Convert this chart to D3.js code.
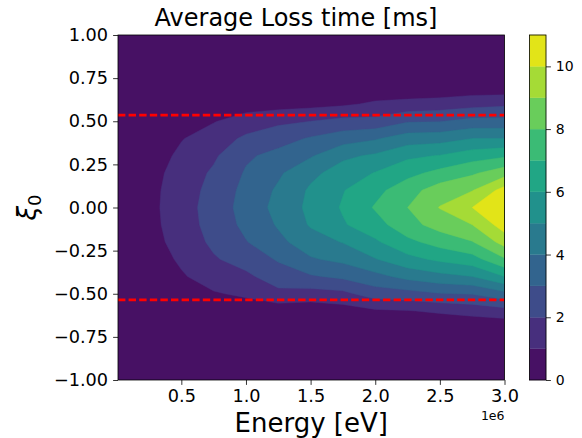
<!DOCTYPE html>
<html><head><meta charset="utf-8">
<script src="https://cdn.jsdelivr.net/npm/d3@7"></script>
<style>
body{margin:0;background:#fff}
text{font-family:"DejaVu Sans",sans-serif;fill:#000}
</style>
</head><body>
<svg id="chart" width="582" height="438"></svg>
<script>
// ---- data ----
const energyMeV = [0.01, 0.25, 0.5, 0.75, 1.0, 1.25, 1.5, 1.75, 2.0, 2.25, 2.5, 2.75, 3.0]; // x 1e6 eV
const xi0 = [-1.0,-0.9,-0.8,-0.7,-0.6,-0.5,-0.4,-0.3,-0.2,-0.1,0.0,0.1,0.2,0.3,0.4,0.5,0.6,0.7,0.8,0.9,1.0];
// average loss time [ms]; one row per energy, values along xi0
const lossTime = [
  [0,0,0,0,0,0,0,0,0,0,0,0,0,0,0,0,0,0,0,0,0],
  [0,0,0,0,0,0.1,0.3,0.48,0.6,0.67,0.7,0.68,0.62,0.5,0.3,0.1,0,0,0,0,0],
  [0,0,0,0,0.2,0.55,0.9,1.15,1.4,1.55,1.6,1.55,1.42,1.2,0.95,0.6,0.25,0,0,0,0],
  [0,0,0,0.1,0.4,0.92,1.42,1.9,2.2,2.35,2.4,2.3,2.15,1.85,1.45,0.95,0.45,0.1,0,0,0],
  [0,0,0,0.1,0.5,1.15,1.8,2.4,2.95,3.25,3.4,3.3,3.1,2.85,2.2,1.4,0.6,0.15,0,0,0],
  [0,0,0,0.1,0.4,1.75,2.5,3.1,3.75,4.1,4.3,4.15,3.85,3.3,2.6,1.8,0.6,0.2,0,0,0],
  [0,0,0,0.1,0.35,1.6,2.9,3.9,4.55,5.1,5.25,5.15,4.75,3.9,3.1,2.0,0.7,0.15,0,0,0],
  [0,0,0,0.1,0.55,1.75,3.2,4.25,5.05,5.9,6.1,5.95,5.45,4.8,3.55,2.3,0.85,0.2,0,0,0],
  [0,0,0,0.15,0.85,2.5,3.7,4.95,5.85,6.6,7.1,6.7,6.05,5.15,3.9,2.3,1.15,0.3,0,0,0],
  [0,0,0,0.1,0.95,2.65,4.3,5.7,6.75,7.65,8.0,7.6,6.7,5.8,4.5,2.9,1.3,0.25,0,0,0],
  [0,0,0,0.1,1.15,2.95,4.7,6.2,7.4,8.4,9.05,8.5,7.3,6.05,4.6,2.95,1.45,0.2,0,0,0],
  [0,0,0,0.2,1.35,3.05,5.0,6.6,7.95,9.0,10.0,8.95,7.85,6.55,5.0,3.3,1.65,0.35,0,0,0],
  [0,0,0,0.2,1.6,3.7,6.0,7.9,9.4,10.5,10.9,10.4,8.6,6.85,5.0,3.3,1.8,0.3,0,0,0]
];
const levels = [0,1,2,3,4,5,6,7,8,9,10,11];
const xTicks = [0.5e6,1.0e6,1.5e6,2.0e6,2.5e6,3.0e6];
const yTicks = [-1.0,-0.75,-0.5,-0.25,0,0.25,0.5,0.75,1.0];
const cbTicks = [0,2,4,6,8,10];
const boundaryXi = [0.535,-0.535];
const titleText = "Average Loss time [ms]";
const xLabelText = "Energy [eV]";

// ---- layout ----
const L = 118, R = 504.5, T = 35, B = 380;
const cbL = 529.5, cbR = 546;
const svg = d3.select("#chart");

const x = d3.scaleLinear().domain([0.01e6, 3e6]).range([L, R]);
const y = d3.scaleLinear().domain([-1, 1]).range([B, T]);
const color = i => d3.interpolateViridis((levels[i] + levels[i+1]) / 2 / levels[levels.length-1]);

// padded grid (edge rows/cols repeated) so contour borders fall outside the plot
const nE = energyMeV.length, nX = xi0.length, W = nE + 2, H = nX + 2;
const grid = new Array(W * H);
for (let j = 0; j < H; j++) for (let i = 0; i < W; i++) {
  const ie = Math.min(nE - 1, Math.max(0, i - 1));
  const jx = Math.min(nX - 1, Math.max(0, j - 1));
  grid[j * W + i] = lossTime[ie][jx];
}
const idx2E = d3.scaleLinear().domain(d3.range(nE)).range(energyMeV.map(e => e * 1e6));
const idx2Xi = d3.scaleLinear().domain(d3.range(nX)).range(xi0);
const proj = d3.geoTransform({ point(px, py) {
  this.stream.point(x(idx2E(px - 1.5)), y(idx2Xi(py - 1.5)));
}});
const path = d3.geoPath(proj);
const contours = d3.contours().size([W, H]).thresholds(levels.slice(0, -1))(grid);

svg.append("defs").append("clipPath").attr("id", "plotclip")
  .append("rect").attr("x", L).attr("y", T).attr("width", R - L).attr("height", B - T);

const plot = svg.append("g").attr("clip-path", "url(#plotclip)");
plot.selectAll("path.band").data(contours).join("path")
  .attr("class", "band")
  .attr("d", path)
  .attr("fill", (d, i) => color(i))
  .attr("stroke", (d, i) => color(i))
  .attr("stroke-width", 0.4);

// dashed boundary lines
plot.selectAll("line.bnd").data(boundaryXi).join("line")
  .attr("class", "bnd")
  .attr("x1", x(0.01e6)).attr("x2", x(3e6))
  .attr("y1", d => y(d)).attr("y2", d => y(d))
  .attr("stroke", "#ff0000").attr("stroke-width", 2.8)
  .attr("stroke-dasharray", "7.4,3.2");

// spines
svg.append("rect").attr("x", L).attr("y", T).attr("width", R - L).attr("height", B - T)
  .attr("fill", "none").attr("stroke", "#000").attr("stroke-width", 0.8);

// axes
const xAxis = svg.append("g").attr("transform", `translate(0,${B})`)
  .call(d3.axisBottom(x).tickValues(xTicks).tickFormat(d => (d / 1e6).toFixed(1))
    .tickSize(4.9).tickSizeOuter(0).tickPadding(4.9));
const yAxis = svg.append("g").attr("transform", `translate(${L},0)`)
  .call(d3.axisLeft(y).tickValues(yTicks).tickFormat(d3.format(".2f"))
    .tickSize(4.9).tickSizeOuter(0).tickPadding(5));
[xAxis, yAxis].forEach(g => {
  g.select(".domain").remove();
  g.selectAll(".tick line").attr("stroke", "#000").attr("stroke-width", 0.8);
  g.selectAll(".tick text").attr("font-size", 17.7).attr("font-family", "DejaVu Sans").attr("fill", "#000");
});

// offset text
svg.append("text").attr("x", R).attr("y", 420).attr("text-anchor", "end")
  .attr("font-size", 12.5).text("1e6");

// labels
svg.append("text").attr("x", (L + R) / 2).attr("y", 432).attr("text-anchor", "middle")
  .attr("font-size", 26).text(xLabelText);
svg.append("text").attr("x", 296).attr("y", 26).attr("text-anchor", "middle")
  .attr("font-size", 24).text(titleText);
const yl = svg.append("text").attr("transform", `translate(36,${(T + B) / 2}) rotate(-90)`)
  .attr("text-anchor", "middle").attr("font-size", 26);
yl.append("tspan").attr("font-style", "italic").text("ξ");
yl.append("tspan").attr("font-size", 18).attr("dy", 5).text("0");

// colorbar
const cy = d3.scaleLinear().domain([levels[0], levels[levels.length - 1]]).range([B, T]);
svg.append("g").selectAll("rect").data(levels.slice(0, -1)).join("rect")
  .attr("x", cbL).attr("width", cbR - cbL)
  .attr("y", (d, i) => cy(levels[i + 1])).attr("height", (d, i) => cy(levels[i]) - cy(levels[i + 1]))
  .attr("fill", (d, i) => color(i)).attr("stroke", (d, i) => color(i)).attr("stroke-width", 0.3);
svg.append("rect").attr("x", cbL).attr("y", T).attr("width", cbR - cbL).attr("height", B - T)
  .attr("fill", "none").attr("stroke", "#000").attr("stroke-width", 0.8);
const cbAxis = svg.append("g").attr("transform", `translate(${cbR},0)`)
  .call(d3.axisRight(cy).tickValues(cbTicks).tickFormat(d3.format("d"))
    .tickSize(4.9).tickSizeOuter(0).tickPadding(4.9));
cbAxis.select(".domain").remove();
cbAxis.selectAll(".tick line").attr("stroke", "#000").attr("stroke-width", 0.8);
cbAxis.selectAll(".tick text").attr("font-size", 14).attr("font-family", "DejaVu Sans").attr("fill", "#000");
</script>
</body></html>
